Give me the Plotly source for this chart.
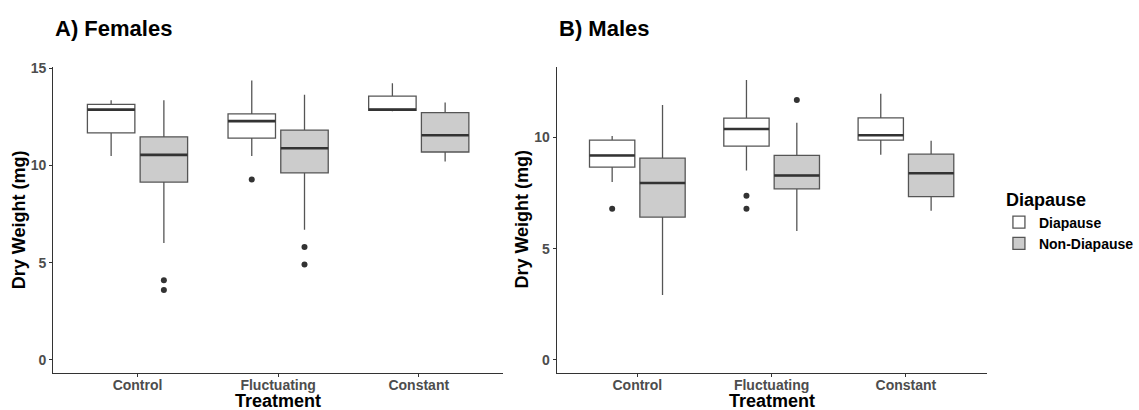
import plotly.graph_objects as go

W, H = 1139, 410

treatments = ["Control", "Fluctuating", "Constant"]
groups = ["Diapause", "Non-Diapause"]
fills = {"Diapause": "#FFFFFF", "Non-Diapause": "#CCCCCC"}

# Box statistics (mg): lower whisker, Q1, median, Q3, upper whisker
fem_dia_low = [10.50, 10.50, 12.80]
fem_dia_q1 = [11.68, 11.41, 12.84]
fem_dia_med = [12.88, 12.29, 12.88]
fem_dia_q3 = [13.15, 12.66, 13.58]
fem_dia_high = [13.37, 14.38, 14.24]
fem_dia_out = [[], [9.28], []]

fem_non_low = [6.01, 6.70, 10.21]
fem_non_q1 = [9.15, 9.62, 10.70]
fem_non_med = [10.55, 10.89, 11.56]
fem_non_q3 = [11.48, 11.83, 12.73]
fem_non_high = [13.37, 13.65, 13.25]
fem_non_out = [[4.10, 3.59], [5.81, 4.90], []]

mal_dia_low = [8.00, 8.51, 9.22]
mal_dia_q1 = [8.67, 9.61, 9.88]
mal_dia_med = [9.19, 10.38, 10.10]
mal_dia_q3 = [9.88, 10.87, 10.88]
mal_dia_high = [10.07, 12.58, 11.96]
mal_dia_out = [[6.79], [7.38, 6.79], []]

mal_non_low = [2.91, 5.79, 6.70]
mal_non_q1 = [6.42, 7.69, 7.34]
mal_non_med = [7.95, 8.29, 8.39]
mal_non_q3 = [9.07, 9.19, 9.25]
mal_non_high = [11.46, 10.66, 9.85]
mal_non_out = [[], [11.68], []]

y_ticks = [0, 5, 10, 15]

panels = [
    {
        "title": "A) Females",
        "Diapause": (fem_dia_low, fem_dia_q1, fem_dia_med, fem_dia_q3, fem_dia_high, fem_dia_out),
        "Non-Diapause": (fem_non_low, fem_non_q1, fem_non_med, fem_non_q3, fem_non_high, fem_non_out),
        "yrange": [-0.68, 15.08],
    },
    {
        "title": "B) Males",
        "Diapause": (mal_dia_low, mal_dia_q1, mal_dia_med, mal_dia_q3, mal_dia_high, mal_dia_out),
        "Non-Diapause": (mal_non_low, mal_non_q1, mal_non_med, mal_non_q3, mal_non_high, mal_non_out),
        "yrange": [-0.59, 13.17],
    },
]

# dodge layout: group width 0.75, box width 90% of each slot
DODGE = 0.75
BOX_W = DODGE / 2 * 0.9
offsets = {"Diapause": -DODGE / 4, "Non-Diapause": DODGE / 4}
cat_pos = [1, 2, 3]

FONT = "Liberation Sans, Arial, Helvetica, sans-serif"
LINE = "#333333"

fig = go.Figure()

for p_i, panel in enumerate(panels):
    xa = "x" if p_i == 0 else "x2"
    ya = "y" if p_i == 0 else "y2"
    for g in groups:
        low, q1, med, q3, high, outs = panel[g]
        xs = [c + offsets[g] for c in cat_pos]
        fig.add_trace(go.Box(
            x=xs, q1=q1, median=med, q3=q3, lowerfence=low, upperfence=high,
            width=BOX_W, boxpoints=False, whiskerwidth=0,
            fillcolor=fills[g], line=dict(color="#555555", width=1.3),
            name=g, legendgroup=g, showlegend=(p_i == 0),
            xaxis=xa, yaxis=ya, hoverinfo="skip",
        ))
        # thicker median bars
        mx, my = [], []
        for x0, m in zip(xs, med):
            mx += [x0 - BOX_W / 2, x0 + BOX_W / 2, None]
            my += [m, m, None]
        fig.add_trace(go.Scatter(
            x=mx, y=my, mode="lines", line=dict(color=LINE, width=2.6),
            showlegend=False, xaxis=xa, yaxis=ya, hoverinfo="skip",
        ))
        # outliers
        ox, oy = [], []
        for x0, pts in zip(xs, outs):
            for v in pts:
                ox.append(x0)
                oy.append(v)
        if ox:
            fig.add_trace(go.Scatter(
                x=ox, y=oy, mode="markers",
                marker=dict(color=LINE, size=6),
                showlegend=False, xaxis=xa, yaxis=ya, hoverinfo="skip",
            ))

axis_common = dict(
    showline=True, linecolor=LINE, linewidth=1.2, mirror=False,
    showgrid=False, zeroline=False,
    ticks="outside", ticklen=3, tickwidth=1, tickcolor=LINE,
    tickfont=dict(family=FONT, size=14, color="#4D4D4D", weight="bold"),
)

xdom = [[53.5 / W, 506.7 / W], [560.7 / W, 993.5 / W]]
ydom = [1 - 372.3 / H, 1 - 61 / H]
ytitle_x = [19, 526]

title_font = dict(family=FONT, size=18, color="black", weight="bold")

for p_i, panel in enumerate(panels):
    sfx = "" if p_i == 0 else "2"
    fig.update_layout(**{
        "xaxis" + sfx: dict(
            axis_common, domain=xdom[p_i], range=[0.4, 3.6],
            tickvals=cat_pos, ticktext=treatments, anchor="y" + sfx,
            ticklabelstandoff=-4,
        ),
        "yaxis" + sfx: dict(
            axis_common, domain=ydom, range=panel["yrange"],
            tickvals=y_ticks, anchor="x" + sfx,
        ),
    })
    # panel title
    fig.add_annotation(
        text=panel["title"], xref="paper", yref="paper",
        x=xdom[p_i][0], y=1 - 21.5 / H, xanchor="left", yanchor="middle",
        showarrow=False,
        font=dict(family=FONT, size=22, color="black", weight="bold"),
    )
    # x axis title
    fig.add_annotation(
        text="Treatment", xref="paper", yref="paper",
        x=(xdom[p_i][0] + xdom[p_i][1]) / 2, y=1 - 400.5 / H,
        xanchor="center", yanchor="middle", showarrow=False, font=title_font,
    )
    # y axis title
    fig.add_annotation(
        text="Dry Weight (mg)", xref="paper", yref="paper",
        x=ytitle_x[p_i] / W, y=1 - 216 / H, textangle=-90,
        xanchor="center", yanchor="middle", showarrow=False, font=title_font,
    )

# legend heading
fig.add_annotation(
    text="Diapause", xref="paper", yref="paper",
    x=1011 / W, y=1 - 196 / H, xanchor="left", yanchor="middle",
    showarrow=False, font=title_font,
)

fig.update_layout(
    width=W, height=H,
    margin=dict(l=0, r=0, t=0, b=0),
    paper_bgcolor="white", plot_bgcolor="white",
    boxmode="overlay",
    legend=dict(
        font=dict(family=FONT, size=14, color="black", weight="bold"),
        x=1006 / W, y=1 - 203 / H, xanchor="left", yanchor="top",
        tracegroupgap=0, itemwidth=30,
    ),
)

fig.write_html("out.html")
